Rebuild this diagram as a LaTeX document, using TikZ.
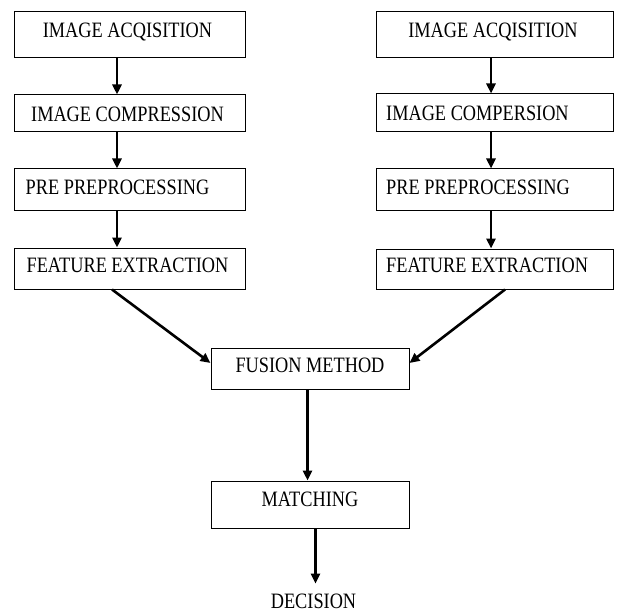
\documentclass[tikz,border=0pt]{standalone}
\usepackage{fontspec}
\setmainfont{Liberation Serif}
\usetikzlibrary{arrows.meta}
\begin{document}
\begin{tikzpicture}[x=1pt,y=-1pt,
  box/.style={draw=black, line width=1pt, inner sep=0pt, fill=white},
  lbl/.style={inner sep=0pt, text height=14.5pt, text depth=0pt,
    font=\fontsize{18.3}{20}\selectfont},
  arr/.style={line width=2.6pt, -{Triangle[length=10pt,width=9pt]}}]
\useasboundingbox[fill=white] (0,0) rectangle (617,612);
\newcommand\tall[1]{\scalebox{1}[1.2]{#1}}
% left column
\node[box, minimum width=231pt, minimum height=46pt] (l1) at (129.5,35) {};
\node[box, minimum width=231pt, minimum height=37pt] (l2) at (129.5,113.5) {};
\node[box, minimum width=231pt, minimum height=41pt] (l3) at (129.5,189.5) {};
\node[box, minimum width=231pt, minimum height=41pt] (l4) at (129.5,268.5) {};
\node[lbl] (tl1) at (127.5,30.5) {\tall{IMAGE ACQISITION}};
\node[lbl] (tl2) at (127.5,114.5) {\tall{IMAGE COMPRESSION}};
\node[lbl] (tl3) at (117.5,187.5) {\tall{PRE PREPROCESSING}};
\node[lbl] (tl4) at (127.5,265.5) {\tall{FEATURE EXTRACTION}};
% right column
\node[box, minimum width=237pt, minimum height=46pt] (r1) at (494.5,35) {};
\node[box, minimum width=237pt, minimum height=38pt] (r2) at (494.5,113) {};
\node[box, minimum width=237pt, minimum height=41pt] (r3) at (494.5,189.5) {};
\node[box, minimum width=237pt, minimum height=40pt] (r4) at (494.5,269) {};
\node[lbl] (tr1) at (493,30.5) {\tall{IMAGE ACQISITION}};
\node[lbl, anchor=west] (tr2) at (386,113.5) {\tall{IMAGE COMPERSION}};
\node[lbl, anchor=west] (tr3) at (386,187.5) {\tall{PRE PREPROCESSING}};
\node[lbl, anchor=west] (tr4) at (386,265.5) {\tall{FEATURE EXTRACTION}};
% fusion, matching, decision
\node[box, minimum width=198pt, minimum height=41pt] (fu) at (310,368.5) {};
\node[lbl] (tfu) at (310,365.5) {\tall{FUSION METHOD}};
\node[box, minimum width=198pt, minimum height=47pt] (ma) at (310,504.5) {};
\node[lbl] (tma) at (310,499.5) {\tall{MATCHING}};
\node[lbl] (de) at (313.5,601) {\tall{DECISION}};
% connectors
\draw[arr] (l1.south -| 117,0) -- (l2.north -| 117,0);
\draw[arr] (l2.south -| 117,0) -- (l3.north -| 117,0);
\draw[arr] (l3.south -| 117,0) -- (l4.north -| 117,0);
\draw[arr] (r1.south -| 491,0) -- (r2.north -| 491,0);
\draw[arr] (r2.south -| 491,0) -- (r3.north -| 491,0);
\draw[arr] (r3.south -| 491,0) -- (r4.north -| 491,0);
\coordinate (ls) at (l4.south -| 112,0);
\coordinate (rs) at (r4.south -| 505,0);
\draw[arr] (ls) -- (fu.west |- 0,363);
\draw[arr] (rs) -- (fu.east |- 0,363);
\draw[arr] (fu.south -| 307.5,0) -- (ma.north -| 307.5,0);
\draw[arr, shorten >=10pt] (ma.south -| 315.5,0) -- (de.north -| 315.5,0);
\end{tikzpicture}
\end{document}
